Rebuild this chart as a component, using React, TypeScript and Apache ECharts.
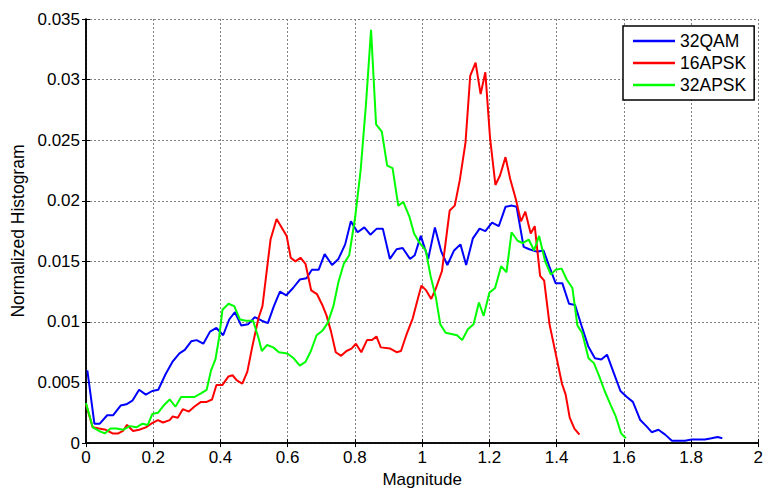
import React, { useEffect, useRef } from "react";
import * as echarts from "echarts";

// 32QAM: [magnitude, normalized histogram]
const qam32: [number, number][] = [
  [0.004, 0.006], [0.025, 0.0016], [0.041, 0.0016], [0.063, 0.0023], [0.081, 0.0023],
  [0.103, 0.0031], [0.12, 0.0032], [0.138, 0.0035], [0.158, 0.0044], [0.178, 0.004],
  [0.197, 0.0043], [0.215, 0.0044], [0.237, 0.0057], [0.257, 0.0067], [0.278, 0.0074],
  [0.294, 0.0077], [0.313, 0.0084], [0.329, 0.0085], [0.349, 0.0082], [0.369, 0.0092],
  [0.388, 0.0095], [0.408, 0.0089], [0.426, 0.0102], [0.443, 0.0108], [0.462, 0.0097],
  [0.482, 0.0098], [0.502, 0.0104], [0.523, 0.0101], [0.541, 0.0099], [0.559, 0.0113],
  [0.577, 0.0125], [0.596, 0.0122], [0.616, 0.0128], [0.636, 0.0135], [0.656, 0.0136],
  [0.672, 0.0143], [0.692, 0.0143], [0.71, 0.0156], [0.732, 0.0147], [0.751, 0.0152],
  [0.771, 0.0164], [0.788, 0.0183], [0.808, 0.0174], [0.828, 0.0178], [0.846, 0.0172],
  [0.865, 0.0177], [0.883, 0.0177], [0.904, 0.0152], [0.924, 0.016], [0.942, 0.0161],
  [0.964, 0.0152], [0.978, 0.0155], [0.996, 0.0171], [1.018, 0.0152], [1.038, 0.0178],
  [1.057, 0.0158], [1.075, 0.0147], [1.095, 0.0159], [1.114, 0.0164], [1.131, 0.0147],
  [1.151, 0.0169], [1.171, 0.0177], [1.188, 0.0175], [1.208, 0.0182], [1.228, 0.0179],
  [1.248, 0.0195], [1.267, 0.0196], [1.281, 0.0195], [1.302, 0.0162], [1.319, 0.016],
  [1.341, 0.0158], [1.361, 0.0159], [1.378, 0.0146], [1.397, 0.0132], [1.417, 0.0132],
  [1.437, 0.0115], [1.455, 0.0114], [1.474, 0.0097], [1.494, 0.008], [1.514, 0.007],
  [1.533, 0.0069], [1.55, 0.0073], [1.57, 0.0058], [1.59, 0.0043], [1.609, 0.0038],
  [1.627, 0.0034], [1.649, 0.0019], [1.667, 0.0014], [1.683, 0.0009], [1.703, 0.0011],
  [1.723, 0.0007], [1.743, 0.0002], [1.762, 0.0002], [1.782, 0.0002], [1.802, 0.0003],
  [1.822, 0.0003], [1.841, 0.0003], [1.861, 0.0004], [1.879, 0.0005], [1.893, 0.0004],
];

// 16APSK
const apsk16: [number, number][] = [
  [0.0, 0.0032], [0.02, 0.0013], [0.039, 0.0012], [0.059, 0.0011], [0.079, 0.0008],
  [0.096, 0.0008], [0.11, 0.001], [0.122, 0.0015], [0.14, 0.001], [0.158, 0.0011],
  [0.178, 0.0013], [0.194, 0.0016], [0.214, 0.0019], [0.229, 0.0017], [0.249, 0.0019],
  [0.258, 0.0022], [0.273, 0.0021], [0.288, 0.0028], [0.306, 0.0026], [0.322, 0.003],
  [0.342, 0.0034], [0.359, 0.0034], [0.375, 0.0036], [0.388, 0.0048], [0.406, 0.0048],
  [0.424, 0.0055], [0.436, 0.0056], [0.448, 0.0052], [0.465, 0.0049], [0.48, 0.0059],
  [0.495, 0.008], [0.513, 0.0103], [0.525, 0.0113], [0.549, 0.0168], [0.567, 0.0185],
  [0.597, 0.0171], [0.609, 0.0153], [0.623, 0.015], [0.638, 0.0153], [0.653, 0.0148],
  [0.67, 0.0126], [0.687, 0.0123], [0.703, 0.0114], [0.716, 0.0105], [0.729, 0.0092],
  [0.743, 0.0075], [0.759, 0.0072], [0.775, 0.0076], [0.79, 0.0078], [0.803, 0.0082],
  [0.819, 0.0075], [0.836, 0.0085], [0.851, 0.0085], [0.864, 0.0088], [0.877, 0.0079],
  [0.905, 0.0078], [0.924, 0.0075], [0.937, 0.0076], [0.954, 0.009], [0.972, 0.0103],
  [0.988, 0.012], [0.998, 0.013], [1.012, 0.0126], [1.027, 0.0119], [1.04, 0.0127],
  [1.059, 0.0142], [1.082, 0.0192], [1.097, 0.0196], [1.112, 0.0217], [1.129, 0.0248],
  [1.143, 0.0303], [1.159, 0.0314], [1.174, 0.0288], [1.188, 0.0306], [1.202, 0.0252],
  [1.218, 0.0213], [1.232, 0.0221], [1.248, 0.0236], [1.262, 0.0218], [1.279, 0.0201],
  [1.294, 0.0183], [1.307, 0.0191], [1.323, 0.0173], [1.335, 0.0179], [1.351, 0.0138],
  [1.363, 0.0134], [1.379, 0.0098], [1.398, 0.0073], [1.416, 0.0049], [1.427, 0.004],
  [1.439, 0.0021], [1.453, 0.0012], [1.468, 0.0007],
];

// 32APSK
const apsk32: [number, number][] = [
  [0.0, 0.0033], [0.02, 0.0013], [0.039, 0.001], [0.056, 0.0008], [0.073, 0.0012],
  [0.091, 0.0012], [0.11, 0.0011], [0.13, 0.0014], [0.15, 0.0013], [0.168, 0.0016],
  [0.184, 0.0015], [0.197, 0.0024], [0.214, 0.0025], [0.231, 0.0031], [0.249, 0.0036],
  [0.266, 0.003], [0.283, 0.0038], [0.303, 0.0038], [0.322, 0.0038], [0.342, 0.0041],
  [0.359, 0.0044], [0.372, 0.006], [0.385, 0.0069], [0.396, 0.0087], [0.406, 0.011],
  [0.424, 0.0115], [0.441, 0.0113], [0.458, 0.0102], [0.476, 0.0101], [0.497, 0.0101],
  [0.513, 0.0087], [0.523, 0.0076], [0.539, 0.0081], [0.557, 0.0079], [0.574, 0.0075],
  [0.599, 0.0074], [0.618, 0.007], [0.636, 0.0064], [0.653, 0.0067], [0.669, 0.0076],
  [0.686, 0.0089], [0.704, 0.0093], [0.719, 0.0099], [0.736, 0.0113], [0.751, 0.0133],
  [0.767, 0.0148], [0.783, 0.0155], [0.801, 0.0187], [0.817, 0.0225], [0.833, 0.028],
  [0.848, 0.0341], [0.863, 0.0263], [0.88, 0.0257], [0.896, 0.0229], [0.912, 0.0227],
  [0.929, 0.0196], [0.944, 0.0199], [0.962, 0.0187], [0.976, 0.0173], [0.993, 0.0165],
  [1.011, 0.0159], [1.025, 0.0138], [1.041, 0.012], [1.054, 0.0098], [1.07, 0.0091],
  [1.087, 0.009], [1.104, 0.0089], [1.119, 0.0085], [1.136, 0.0094], [1.153, 0.0098],
  [1.169, 0.0116], [1.183, 0.0105], [1.2, 0.0124], [1.217, 0.0128], [1.235, 0.0146],
  [1.251, 0.0141], [1.266, 0.0174], [1.284, 0.0167], [1.299, 0.0165], [1.317, 0.0168],
  [1.333, 0.0159], [1.348, 0.0171], [1.366, 0.015], [1.383, 0.0139], [1.397, 0.0143],
  [1.415, 0.0144], [1.43, 0.0135], [1.447, 0.0128], [1.462, 0.0097], [1.476, 0.0091],
  [1.495, 0.007], [1.511, 0.0066], [1.527, 0.0055], [1.543, 0.0043], [1.56, 0.0032],
  [1.576, 0.0022], [1.592, 0.0008], [1.606, 0.0004],
];

const seriesNames = ["32QAM", "16APSK", "32APSK"];
const seriesColors = ["#0000ff", "#ff0000", "#00ff00"];
const xTicks = { min: 0, max: 2, interval: 0.2 };
const yTicks = { min: 0, max: 0.035, interval: 0.005 };

const FONT = "'Liberation Sans', Arial, Helvetica, sans-serif";
const LEGEND_LINE = "path://M0,0 L40,0 L40,2.4 L0,2.4 Z";

export default function App() {
  const ref = useRef<HTMLDivElement>(null);
  useEffect(() => {
    if (!ref.current) return;
    const chart = echarts.init(ref.current, undefined, { renderer: "svg" });
    const fmt = (v: number) => String(Number(v.toFixed(4)));
    const splitLine = { show: true, lineStyle: { color: "#808080", type: [2, 2] as any, width: 1 } };
    const axisLine = { show: true, lineStyle: { color: "#000", width: 1.5 } };
    const tickIn = { show: true, inside: true, length: 4, lineStyle: { color: "#000", width: 1 } };
    const data = [qam32, apsk16, apsk32];
    chart.setOption({
      animation: false,
      backgroundColor: "#fff",
      textStyle: { fontFamily: FONT },
      grid: { left: 86, right: 4, top: 19, bottom: 46, containLabel: false },
      legend: {
        orient: "vertical",
        left: 623,
        top: 26,
        padding: [6, 8, 6, 10],
        itemGap: 4,
        itemWidth: 42,
        itemHeight: 18,
        backgroundColor: "#fff",
        borderColor: "#000",
        borderWidth: 1.5,
        borderRadius: 0,
        textStyle: { fontFamily: FONT, fontSize: 17.5, color: "#000" },
        data: seriesNames.map((n) => ({ name: n, icon: LEGEND_LINE })),
      },
      xAxis: [
        {
          type: "value",
          min: xTicks.min,
          max: xTicks.max,
          interval: xTicks.interval,
          name: "Magnitude",
          nameLocation: "middle",
          nameGap: 27,
          nameTextStyle: { fontFamily: FONT, fontSize: 17, color: "#000" },
          axisLine,
          axisTick: tickIn,
          axisLabel: { color: "#000", fontSize: 17, fontFamily: FONT, margin: 6, formatter: fmt },
          splitLine,
        },
        {
          type: "value",
          position: "top",
          min: xTicks.min,
          max: xTicks.max,
          interval: xTicks.interval,
          axisLine,
          axisTick: tickIn,
          axisLabel: { show: false },
          splitLine: { show: false },
        },
      ],
      yAxis: [
        {
          type: "value",
          min: yTicks.min,
          max: yTicks.max,
          interval: yTicks.interval,
          name: "Normalized Histogram",
          nameLocation: "middle",
          nameGap: 57,
          nameTextStyle: { fontFamily: FONT, fontSize: 17.5, color: "#000" },
          axisLine,
          axisTick: tickIn,
          axisLabel: { color: "#000", fontSize: 17, fontFamily: FONT, margin: 6, formatter: fmt },
          splitLine,
        },
        {
          type: "value",
          position: "right",
          min: yTicks.min,
          max: yTicks.max,
          interval: yTicks.interval,
          axisLine,
          axisTick: tickIn,
          axisLabel: { show: false },
          splitLine: { show: false },
        },
      ],
      series: data.map((d, i) => ({
        name: seriesNames[i],
        type: "line",
        data: d,
        symbol: "none",
        showSymbol: false,
        color: seriesColors[i],
        itemStyle: { color: seriesColors[i] },
        lineStyle: { color: seriesColors[i], width: 2 },
        z: 3 + i,
      })),
    });
    return () => chart.dispose();
  }, []);
  return (
    <div
      ref={ref}
      style={{ position: "fixed", left: 0, top: 0, width: 766, height: 493, background: "#fff" }}
    />
  );
}
